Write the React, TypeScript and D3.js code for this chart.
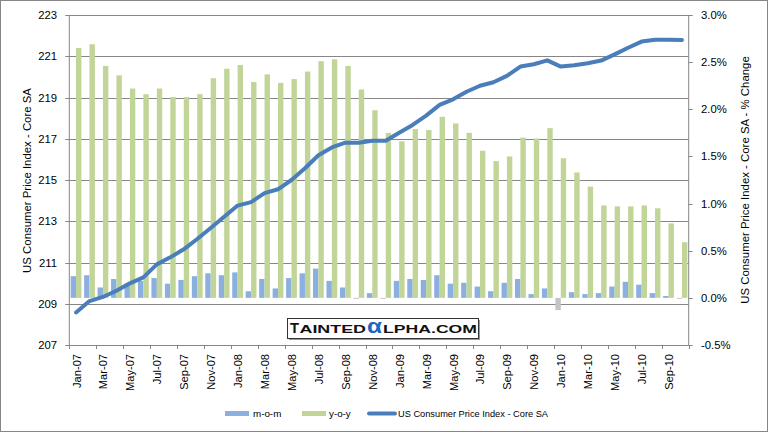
import React, { useRef, useEffect } from "react";
import * as d3 from "d3";

// categories (monthly, Jan-07 .. Oct-10)
const months = [
  "Jan-07", "Feb-07", "Mar-07", "Apr-07", "May-07", "Jun-07", "Jul-07", "Aug-07", "Sep-07", "Oct-07", "Nov-07", "Dec-07",
  "Jan-08", "Feb-08", "Mar-08", "Apr-08", "May-08", "Jun-08", "Jul-08", "Aug-08", "Sep-08", "Oct-08", "Nov-08", "Dec-08",
  "Jan-09", "Feb-09", "Mar-09", "Apr-09", "May-09", "Jun-09", "Jul-09", "Aug-09", "Sep-09", "Oct-09", "Nov-09", "Dec-09",
  "Jan-10", "Feb-10", "Mar-10", "Apr-10", "May-10", "Jun-10", "Jul-10", "Aug-10", "Sep-10", "Oct-10",
];

// month-over-month % change (right axis)
const momChange = [
  0.23, 0.24, 0.11, 0.2, 0.15, 0.18, 0.21, 0.15, 0.19, 0.23, 0.26, 0.24,
  0.27, 0.07, 0.2, 0.1, 0.21, 0.26, 0.31, 0.18, 0.11, -0.01, 0.05, -0.01,
  0.18, 0.2, 0.19, 0.24, 0.15, 0.16, 0.12, 0.07, 0.16, 0.2, 0.04, 0.1,
  -0.13, 0.06, 0.04, 0.05, 0.12, 0.17, 0.14, 0.05, 0.02, -0.01,
];

// year-over-year % change (right axis)
const yoyChange = [
  2.65, 2.69, 2.46, 2.36, 2.22, 2.16, 2.22, 2.13, 2.13, 2.16, 2.33, 2.43,
  2.47, 2.29, 2.37, 2.28, 2.32, 2.4, 2.51, 2.53, 2.46, 2.21, 1.99, 1.75,
  1.66, 1.79, 1.78, 1.92, 1.85, 1.75, 1.56, 1.45, 1.5, 1.7, 1.69, 1.8,
  1.48, 1.33, 1.18, 0.98, 0.97, 0.97, 0.98, 0.95, 0.79, 0.59,
];

// US CPI core SA index level (left axis)
const coreIndex = [
  208.58, 209.13, 209.33, 209.63, 209.99, 210.28, 210.91, 211.25, 211.64, 212.14, 212.67, 213.22,
  213.76, 213.93, 214.36, 214.55, 215.0, 215.57, 216.2, 216.58, 216.81, 216.81, 216.9, 216.9,
  217.29, 217.67, 218.12, 218.64, 218.91, 219.28, 219.57, 219.74, 220.05, 220.5, 220.61, 220.8,
  220.5, 220.56, 220.66, 220.79, 221.09, 221.41, 221.71, 221.8, 221.8, 221.79,
];

const indexTicks = [207, 209, 211, 213, 215, 217, 219, 221, 223];
const pctTicks = [-0.5, 0, 0.5, 1, 1.5, 2, 2.5, 3];

const seriesNames = ["m-o-m", "y-o-y", "US Consumer Price Index - Core SA"];
const axisTitleLeft = "US Consumer Price Index - Core SA";
const axisTitleRight = "US Consumer Price Index - Core SA - % Change";

const FONT = "'Liberation Sans', Arial, sans-serif";
const GRID = "#868686";
const MOM_COLOR = "#8BAFDF";
const YOY_COLOR = "#C0D597";
const NEG_COLOR = "#C4C4C4";
const LINE_COLOR = "#4A7EBB";

const App: React.FC = () => {
  const svgRef = useRef<SVGSVGElement | null>(null);

  useEffect(() => {
    if (!svgRef.current) return;
    const svg = d3.select(svgRef.current);
    svg.selectAll("*").remove();

    const plot = { left: 69.3, right: 688.7, top: 15, bottom: 345 };

    const x = d3
      .scaleBand<string>()
      .domain(months)
      .range([plot.left, plot.right])
      .padding(0);
    const yIdx = d3.scaleLinear().domain([207, 223]).range([plot.bottom, plot.top]);
    const yPct = d3.scaleLinear().domain([-0.5, 3]).range([plot.bottom, plot.top]);
    const center = (m: string) => x(m)! + x.bandwidth() / 2;
    const bw = x.bandwidth() * 0.4;

    // chart area border
    svg
      .append("rect")
      .attr("x", 0.5)
      .attr("y", 0.5)
      .attr("width", 767)
      .attr("height", 431)
      .attr("fill", "#fff")
      .attr("stroke", GRID);

    // gridlines (primary axis)
    svg
      .append("g")
      .selectAll("line")
      .data(indexTicks)
      .enter()
      .append("line")
      .attr("x1", plot.left)
      .attr("x2", plot.right)
      .attr("y1", (d) => Math.round(yIdx(d)) + 0.5)
      .attr("y2", (d) => Math.round(yIdx(d)) + 0.5)
      .attr("stroke", GRID);

    // m-o-m bars
    svg
      .append("g")
      .selectAll("rect")
      .data(months)
      .enter()
      .append("rect")
      .attr("x", (m) => center(m) - bw)
      .attr("width", bw)
      .attr("y", (_, i) => yPct(Math.max(0, momChange[i])))
      .attr("height", (_, i) => Math.abs(yPct(momChange[i]) - yPct(0)))
      .attr("fill", (_, i) => (momChange[i] < 0 ? NEG_COLOR : MOM_COLOR));

    // y-o-y bars
    svg
      .append("g")
      .selectAll("rect")
      .data(months)
      .enter()
      .append("rect")
      .attr("x", (m) => center(m))
      .attr("width", bw)
      .attr("y", (_, i) => yPct(yoyChange[i]))
      .attr("height", (_, i) => yPct(0) - yPct(yoyChange[i]))
      .attr("fill", YOY_COLOR);

    // index line
    const line = d3
      .line<number>()
      .x((_, i) => center(months[i]))
      .y((d) => yIdx(d));
    svg
      .append("path")
      .datum(coreIndex)
      .attr("d", line)
      .attr("fill", "none")
      .attr("stroke", LINE_COLOR)
      .attr("stroke-width", 4)
      .attr("stroke-linejoin", "round")
      .attr("stroke-linecap", "round");

    // axes lines
    const axes = svg.append("g").attr("stroke", GRID).attr("fill", "none");
    axes.append("line").attr("x1", plot.left).attr("x2", plot.left).attr("y1", plot.top).attr("y2", plot.bottom);
    axes.append("line").attr("x1", plot.right).attr("x2", plot.right).attr("y1", plot.top).attr("y2", plot.bottom);
    axes.append("line").attr("x1", plot.left).attr("x2", plot.right).attr("y1", plot.bottom + 0.5).attr("y2", plot.bottom + 0.5);

    // left ticks
    indexTicks.forEach((t) => {
      const y = Math.round(yIdx(t)) + 0.5;
      axes.append("line").attr("x1", plot.left - 4).attr("x2", plot.left).attr("y1", y).attr("y2", y);
    });
    svg
      .append("g")
      .selectAll("text")
      .data(indexTicks)
      .enter()
      .append("text")
      .attr("x", 57)
      .attr("y", (d) => yIdx(d) + 4)
      .attr("text-anchor", "end")
      .attr("font-family", FONT)
      .attr("font-size", 11.3)
      .text((d) => d);

    // right ticks
    pctTicks.forEach((t) => {
      const y = Math.round(yPct(t)) + 0.5;
      axes.append("line").attr("x1", plot.right).attr("x2", plot.right + 4).attr("y1", y).attr("y2", y);
    });
    svg
      .append("g")
      .selectAll("text")
      .data(pctTicks)
      .enter()
      .append("text")
      .attr("x", 701)
      .attr("y", (d) => yPct(d) + 4)
      .attr("font-family", FONT)
      .attr("font-size", 11.3)
      .text((d) => `${d.toFixed(1)}%`);

    // x ticks every 2 categories
    const xTickPos = months
      .filter((_, i) => i % 2 === 0)
      .map((m) => x(m)!)
      .concat([plot.right]);
    xTickPos.forEach((px) => {
      axes
        .append("line")
        .attr("x1", Math.round(px) + 0.5)
        .attr("x2", Math.round(px) + 0.5)
        .attr("y1", plot.bottom)
        .attr("y2", plot.bottom + 4);
    });
    svg
      .append("g")
      .selectAll("text")
      .data(months.filter((_, i) => i % 2 === 0))
      .enter()
      .append("text")
      .attr("transform", (m) => `translate(${center(m) + 4.5},354) rotate(-90)`)
      .attr("text-anchor", "end")
      .attr("font-family", FONT)
      .attr("font-size", 11.1)
      .text((m) => m);

    // axis titles
    svg
      .append("text")
      .attr("transform", "translate(30.5,180.5) rotate(-90)")
      .attr("text-anchor", "middle")
      .attr("font-family", FONT)
      .attr("font-size", 11.4)
      .text(axisTitleLeft);
    svg
      .append("text")
      .attr("transform", "translate(748.5,180) rotate(-90)")
      .attr("text-anchor", "middle")
      .attr("font-family", FONT)
      .attr("font-size", 11.4)
      .text(axisTitleRight);

    // logo
    const logo = svg.append("g");
    logo.append("rect").attr("x", 289).attr("y", 320).attr("width", 191).attr("height", 20).attr("fill", "#9a9a9a");
    logo
      .append("rect")
      .attr("x", 287.5)
      .attr("y", 318.5)
      .attr("width", 191)
      .attr("height", 20)
      .attr("fill", "#fff")
      .attr("stroke", "#333");
    const logoText = (t: string, lx: number, w: number, size: number, fill: string) =>
      logo
        .append("text")
        .attr("x", lx)
        .attr("y", 333)
        .attr("font-family", FONT)
        .attr("font-weight", "bold")
        .attr("font-size", size)
        .attr("fill", fill)
        .attr("textLength", w)
        .attr("lengthAdjust", "spacingAndGlyphs")
        .text(t);
    logoText("T", 290, 9, 14.5, "#111");
    logoText("AINTED", 299.5, 66.5, 10.5, "#111");
    logoText("α", 367, 15, 21, "#1A66C2");
    logoText("LPHA.COM", 383, 94, 10.5, "#111");

    // legend
    const lg = svg.append("g").attr("font-family", FONT).attr("font-size", 9.8);
    lg.append("rect").attr("x", 225).attr("y", 411).attr("width", 24).attr("height", 5).attr("fill", MOM_COLOR);
    lg.append("text").attr("x", 253).attr("y", 417).text(seriesNames[0]);
    lg.append("rect").attr("x", 302).attr("y", 411).attr("width", 24).attr("height", 5).attr("fill", YOY_COLOR);
    lg.append("text").attr("x", 329).attr("y", 417).text(seriesNames[1]);
    lg.append("line")
      .attr("x1", 369)
      .attr("x2", 395)
      .attr("y1", 413.5)
      .attr("y2", 413.5)
      .attr("stroke", LINE_COLOR)
      .attr("stroke-width", 4)
      .attr("stroke-linecap", "round");
    lg.append("text")
      .attr("x", 398)
      .attr("y", 417)
      .attr("textLength", 150)
      .attr("lengthAdjust", "spacingAndGlyphs")
      .text(seriesNames[2]);
  }, []);

  return (
    <svg
      ref={svgRef}
      width={769}
      height={433}
      style={{ position: "absolute", left: 0, top: 0 }}
    ></svg>
  );
};

export default App;
